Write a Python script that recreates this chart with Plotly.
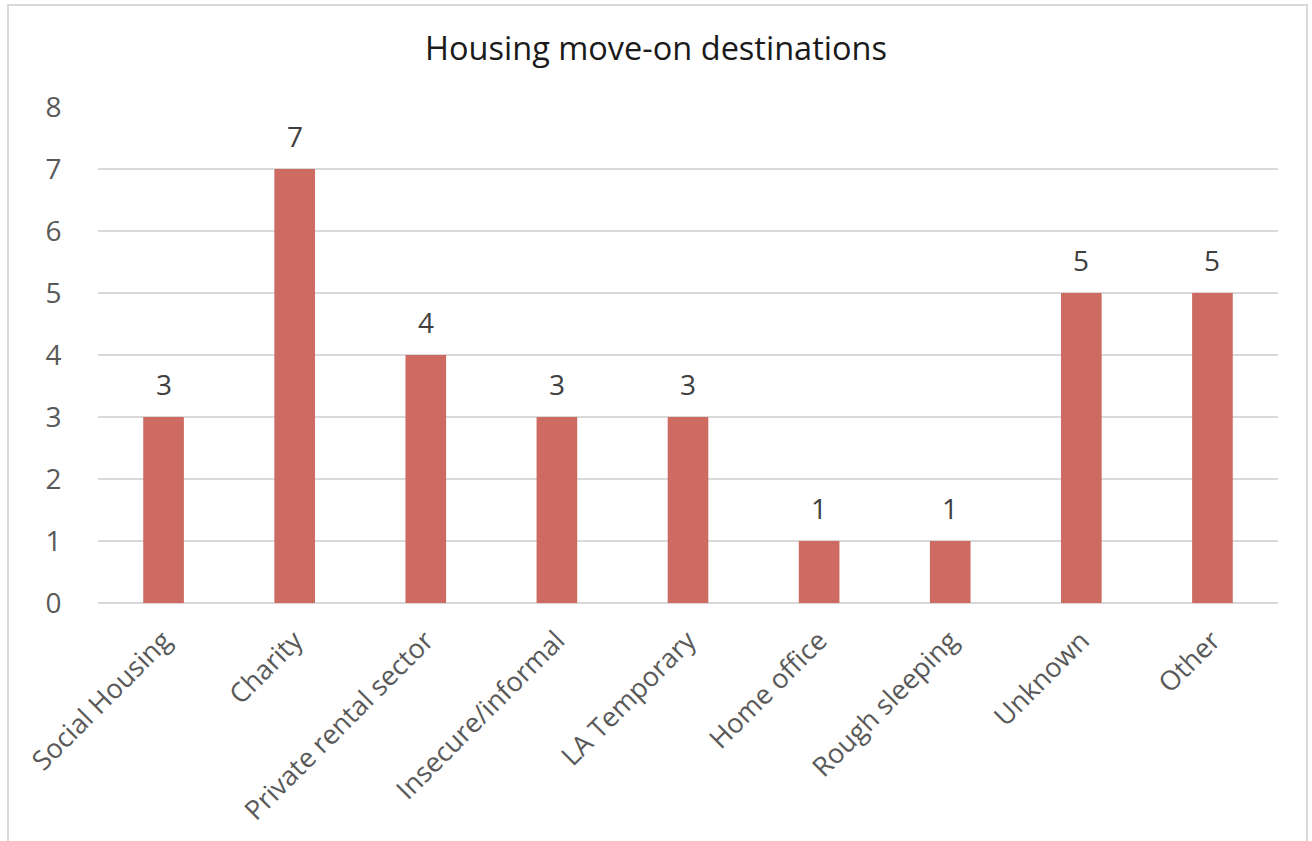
import plotly.graph_objects as go

# Move-on destinations and counts
categories = ["Social Housing", "Charity", "Private rental sector", "Insecure/informal",
              "LA Temporary", "Home office", "Rough sleeping", "Unknown", "Other"]
counts = [3, 7, 4, 3, 3, 1, 1, 5, 5]
y_ticks = [0, 1, 2, 3, 4, 5, 6, 7, 8]

W, H = 1312, 841
L, R, T, B = 98, 34, 107, 238
pw = W - L - R
ph = H - T - B
FONT = "Open Sans"

fig = go.Figure(go.Bar(
    x=categories,
    y=counts,
    marker=dict(color="#CD6B63", line=dict(width=0)),
    hoverinfo="x+y",
))

# value labels sitting above each bar
for cat, v in zip(categories, counts):
    fig.add_annotation(x=cat, y=v, text=str(v), showarrow=False,
                       yanchor="bottom", yshift=12,
                       font=dict(family=FONT, size=28, color="#404040"))


def px_to_paper_y(p):
    return (H - B - p) / ph


def px_to_paper_x(p):
    return (p - L) / pw


fig.update_layout(
    width=W, height=H,
    margin=dict(l=L, r=R, t=T, b=B, pad=0, autoexpand=False),
    paper_bgcolor="white",
    plot_bgcolor="white",
    bargap=0.69,
    showlegend=False,
    title=dict(text="Housing move-on destinations", x=0.5, xanchor="center",
               y=1 - 49 / H, yanchor="middle",
               font=dict(family=FONT, size=32.5, color="#1a1a1a")),
    font=dict(family=FONT, color="#595959"),
    xaxis=dict(tickangle=-45, tickfont=dict(size=27, color="#595959"),
               showgrid=False, showline=False, automargin=False,
               ticks="outside", ticklen=10, tickcolor="rgba(0,0,0,0)"),
    yaxis=dict(range=[0, 8], tickvals=y_ticks, tickfont=dict(size=28, color="#595959"),
               showgrid=True, gridcolor="#D9D9D9", gridwidth=1.5, automargin=False,
               zeroline=True, zerolinecolor="#D9D9D9", zerolinewidth=1.5,
               ticks="outside", ticklen=30, tickcolor="rgba(0,0,0,0)", showline=False),
    shapes=[dict(type="rect", xref="paper", yref="paper",
                 x0=px_to_paper_x(8), x1=px_to_paper_x(1307),
                 y0=px_to_paper_y(860), y1=px_to_paper_y(5),
                 line=dict(color="#D9D9D9", width=2), fillcolor="rgba(0,0,0,0)",
                 layer="below")],
)

fig.write_html("out.html")
